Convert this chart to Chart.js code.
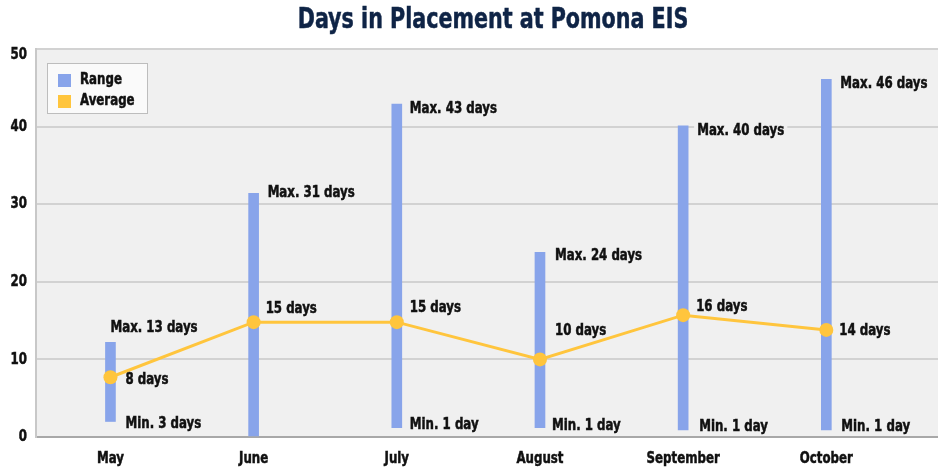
<!DOCTYPE html>
<html>
<head>
<meta charset="utf-8">
<script src="https://cdn.jsdelivr.net/npm/chart.js@4/dist/chart.umd.min.js"></script>
<style>
  html, body { margin: 0; padding: 0; background: #fff; }
  #wrap { width: 938px; height: 469px; position: relative; }
</style>
</head>
<body>
<div id="wrap"><canvas id="chart"></canvas></div>
<script>
const TITLE = "Days in Placement at Pomona EIS";
const months = ["May", "June", "July", "August", "September", "October"];
const rangeMin = [2, 0, 1.2, 1.2, 0.9, 0.9];
const rangeMax = [12.2, 31.4, 42.9, 23.8, 40.1, 46.1];
const average = [7.7, 14.8, 14.8, 10.0, 15.7, 13.8];
const maxLabels = ["Max. 13 days", "Max. 31 days", "Max. 43 days", "Max. 24 days", "Max. 40 days", "Max. 46 days"];
const minLabels = ["Min. 3 days", "", "Min. 1 day", "Min. 1 day", "Min. 1 day", "Min. 1 day"];
const avgLabels = ["8 days", "15 days", "15 days", "10 days", "16 days", "14 days"];
const yTicks = [0, 10, 20, 30, 40, 50];

const FONT = "'DejaVu Sans Condensed', 'DejaVu Sans', sans-serif";
const SX = 0.82; // squeeze to mimic the narrow display face
const BLUE = "#88a4ea";
const GOLD = "#ffc53d";

// label nudges in px relative to the mark they describe
const maxOff = [[0, -14], [14, 0], [13, 5], [15, 4], [14, 5], [14, 5]];
const minOff = [[15, 2], [14, 0], [13, -3], [12, -2], [16, -3], [15, -3]];
const avgOff = [[15, 3], [12, -13], [13, -14], [15, -29], [13, -8], [13, 1]];

function text(ctx, txt, px, py, align, size, color) {
  ctx.save();
  ctx.font = `bold ${size}px ${FONT}`;
  ctx.fillStyle = color || "#111";
  ctx.strokeStyle = color || "#111";
  ctx.lineWidth = 0.5;
  ctx.textBaseline = "middle";
  ctx.textAlign = align;
  ctx.translate(px, py);
  ctx.scale(SX, 1);
  ctx.fillText(txt, 0, 0);
  ctx.strokeText(txt, 0, 0);
  ctx.restore();
}

function textWidth(ctx, txt, size) {
  ctx.save();
  ctx.font = `bold ${size}px ${FONT}`;
  const w = ctx.measureText(txt).width * SX;
  ctx.restore();
  return w;
}

const decor = {
  id: "decor",
  beforeDraw(chart) {
    const { ctx, chartArea: a } = chart;
    ctx.save();
    ctx.fillStyle = "#f0f0f0";
    ctx.fillRect(a.left, a.top, a.right - a.left, a.bottom - a.top);
    ctx.restore();
    text(ctx, TITLE, (a.left + a.right) / 2 + 6, 21, "center", 28, "#0f2446");
  },
  afterDatasetsDraw(chart) {
    const { ctx, scales: { x, y } } = chart;
    const put = (txt, px, py, box) => {
      if (!txt) return;
      if (box) {
        const w = textWidth(ctx, txt, 16);
        ctx.fillStyle = "#f0f0f0";
        ctx.fillRect(px - 3, py - 9, w + 6, 18);
      }
      text(ctx, txt, px, py, "left", 16);
    };
    months.forEach((m, i) => {
      const cx = x.getPixelForValue(i);
      put(maxLabels[i], cx + maxOff[i][0], y.getPixelForValue(rangeMax[i]) + maxOff[i][1], true);
      put(minLabels[i], cx + minOff[i][0], y.getPixelForValue(rangeMin[i]) + minOff[i][1], false);
      put(avgLabels[i], cx + avgOff[i][0], y.getPixelForValue(average[i]) + avgOff[i][1], false);
      text(ctx, m, cx, 459, "center", 16);
    });
    yTicks.forEach(v => {
      const py = Math.max(y.getPixelForValue(v), 55);
      text(ctx, String(v), 27, py, "right", 16);
    });
    // legend box
    const lx = 47, ly = 63;
    ctx.save();
    ctx.fillStyle = "#fafafa";
    ctx.fillRect(lx, ly, 100, 50);
    ctx.strokeStyle = "#bdbdbd";
    ctx.lineWidth = 1;
    ctx.strokeRect(lx + 0.5, ly + 0.5, 100, 50);
    ctx.restore();
    chart.data.datasets.forEach((ds, k) => {
      const yy = ly + 17 + k * 21;
      ctx.fillStyle = ds.legendColor;
      ctx.fillRect(lx + 11, yy - 6, 13, 13);
      text(ctx, ds.label, lx + 33, yy, "left", 16);
    });
  }
};

new Chart(document.getElementById("chart"), {
  data: {
    datasets: [
      {
        type: "bar",
        label: "Range",
        legendColor: BLUE,
        data: months.map((m, i) => ({ x: i, y: [rangeMin[i], rangeMax[i]] })),
        backgroundColor: BLUE,
        barThickness: 10,
        order: 2
      },
      {
        type: "line",
        label: "Average",
        legendColor: GOLD,
        data: months.map((m, i) => ({ x: i, y: average[i] })),
        borderColor: GOLD,
        backgroundColor: GOLD,
        borderWidth: 3,
        pointRadius: 7,
        pointBorderWidth: 0,
        tension: 0,
        order: 1
      }
    ]
  },
  options: {
    responsive: true,
    maintainAspectRatio: false,
    animation: false,
    layout: { autoPadding: false, padding: { top: 49, right: 0, left: 0, bottom: 0 } },
    plugins: { legend: { display: false }, tooltip: { enabled: false }, title: { display: false } },
    scales: {
      x: {
        type: "linear",
        offset: false,
        bounds: "data",
        min: -0.52,
        max: 5.78,
        afterFit: (s) => { s.height = 32; },
        grid: { display: false },
        border: { color: "#a8a8a8", width: 2 },
        ticks: { display: false }
      },
      y: {
        min: 0,
        max: 50,
        afterBuildTicks: (s) => { s.ticks = yTicks.map(v => ({ value: v })); },
        afterFit: (s) => { s.width = 36; },
        grid: { color: "#d2d2d2", lineWidth: 2, drawTicks: false },
        border: { color: "#c8c8c8", width: 2 },
        ticks: { display: false }
      }
    }
  },
  plugins: [decor]
});
</script>
</body>
</html>
